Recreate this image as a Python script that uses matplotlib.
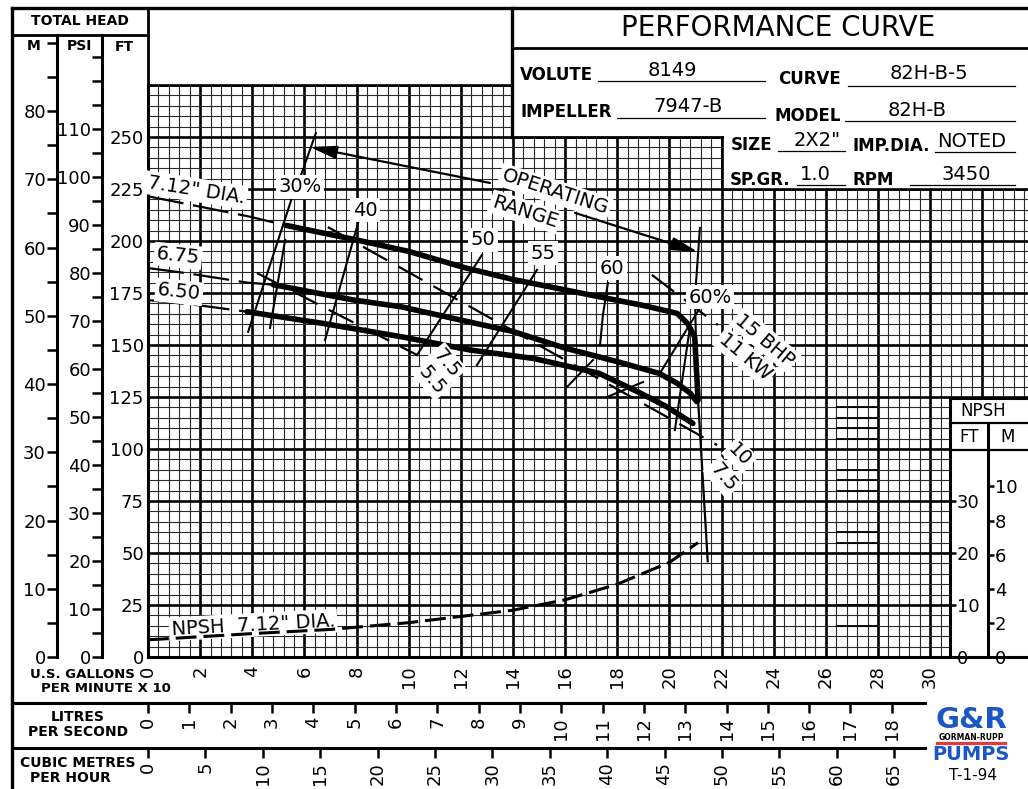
import numpy as np
import matplotlib
matplotlib.use("Agg")
import matplotlib.pyplot as plt
from matplotlib.patches import Rectangle
from matplotlib.ticker import MultipleLocator

plt.rcParams['font.family'] = ['DejaVu Sans']
plt.rcParams['lines.scale_dashes'] = False

# ---------------- data ----------------
flow_ticks = list(range(0, 33, 2))
flow_labels = [str(v) for v in range(0, 31, 2)] + ['']
head_ticks = list(range(0, 276, 25))
head_labels = [str(v) for v in range(0, 251, 25)] + ['']
metre_ticks = list(range(0, 81, 10))
psi_ticks = list(range(0, 111, 10))
litre_ticks = list(range(0, 19))
m3h_ticks = list(range(0, 66, 5))
npsh_ft_ticks = [0, 10, 20, 30]
npsh_m_ticks = [0, 2, 4, 6, 8, 10]

# head-capacity curves (flow in US GPM x10, head in ft)
q_712 = [0, 2, 3.9, 5.3, 8.0, 10.0, 12.2, 14.0, 16.0, 17.3, 19.0, 20.3, 20.7, 20.97, 21.1]
h_712 = [221.5, 216.5, 211.7, 207.5, 200.5, 195.0, 187.0, 181.5, 176.5, 173.2, 169.0, 165.2, 160.3, 153.9, 123.6]
q_712_runout = [21.1, 21.47]
h_712_runout = [123.6, 46.0]

q_675 = [0, 1.5, 3.8, 4.8, 7.9, 9.7, 12.35, 14.0, 16.0, 18.0, 19.6, 20.3, 20.8, 21.05]
h_675 = [187.0, 184.5, 180.0, 179.0, 171.6, 168.4, 161.0, 156.5, 148.5, 142.0, 136.4, 131.6, 126.8, 122.8]

q_650 = [0, 2.0, 3.8, 6.7, 9.7, 12.35, 14.8, 17.3, 18.9, 19.9, 20.9]
h_650 = [171.6, 169.0, 166.0, 160.4, 154.0, 147.6, 143.5, 136.4, 126.8, 120.3, 112.3]

# NPSH required (ft) for 7.12" impeller
q_npsh = [0, 4, 7, 10, 14, 16, 18, 20, 21.1]
npsh_ft = [3.3, 4.5, 5.3, 6.6, 9.0, 11.0, 14.0, 18.2, 22.0]

# iso-efficiency lines (q, head ft)
eff_30a = [(5.52, 220.7), (3.84, 156.3)]
eff_30b = [(5.26, 200.5), (4.68, 158.2)]
eff_40 = [(8.06, 208.7), (6.79, 152.4)]
eff_50 = [(12.81, 193.3), (10.32, 145.2)]
eff_55 = [(14.92, 186.1), (12.62, 140.4)]
eff_60a = [(17.64, 179.8), (17.45, 164.4), (17.34, 150.0)]
eff_60b = [(17.07, 142.8), (16.07, 129.8)]
eff_60c = [(17.61, 125.0), (18.99, 132.2)]
eff_60pa = [(21.17, 167.8), (19.64, 136.5)]
eff_60pb = [(20.79, 158.7), (20.21, 109.1)]
eff_60pc = [(20.98, 171.6), (21.06, 134.6)]

# brake horsepower lines
bhp_75 = [(4.18, 184.6), (10.32, 145.2)]
bhp_10 = [(6.9, 206.7), (21.83, 101.9)]
bhp_15 = [(19.33, 183.7), (21.86, 159.6)]

# operating range
op_left = [(6.44, 251.9), (5.83, 230.3)]
op_right = [(21.17, 206.3), (20.98, 172.6)]

# curve annotations: text, q, head, rotation
ann_text = ['7.12" DIA.', '6.75', '6.50', '30%', '40', '50', '55', '60', '60%',
            '15 BHP', '11 KW', '7.5', '5.5', '10', '7.5', 'NPSH  7.12" DIA.']
ann_q = [1.84, 1.15, 1.19, 5.83, 8.32, 12.85, 15.15, 17.8, 21.56,
         23.67, 22.9, 11.47, 10.9, 22.7, 22.06, 4.03]
ann_h = [224.5, 192.8, 175.5, 226.0, 214.9, 200.5, 194.2, 187.0, 173.0,
         152.4, 144.2, 141.3, 133.2, 97.0, 86.5, 15.4]
ann_rot = [-9, -6, -6, 0, 0, 0, 0, 0, 0, -40, -40, -50, -50, -45, -50, 3]

# ---------------- geometry ----------------
W, H = 1028, 789
X0, Y0 = 148, 657          # pixel of flow 0 / head 0
PX_Q = 26.07               # px per 10 gpm
PX_FT = 2.08               # px per ft of head
GRID_TOP = 85


def fx(px):
    return px / W


def fy(py):
    return 1 - py / H


fig = plt.figure(figsize=(W / 100, H / 100), dpi=100)
fig.patch.set_facecolor('white')

ax = fig.add_axes([fx(X0), fy(Y0), 1 - fx(X0), fy(GRID_TOP) - fy(Y0)])
ax.set_xlim(0, (W - X0) / PX_Q)
ax.set_ylim(0, (Y0 - GRID_TOP) / PX_FT)
ax.set_xticks(flow_ticks, labels=flow_labels)
ax.xaxis.set_minor_locator(MultipleLocator(0.4))
ax.set_yticks(head_ticks, labels=head_labels)
ax.yaxis.set_minor_locator(MultipleLocator(5))
ax.set_axisbelow(True)
ax.grid(which='minor', color='#2a2a2a', lw=0.8)
ax.grid(which='major', color='black', lw=1.9)
ax.tick_params(which='both', length=0)
ax.tick_params(axis='x', pad=6, labelrotation=90, labelsize=13)
ax.tick_params(axis='y', pad=3, labelsize=13)
for s in ['top', 'right']:
    ax.spines[s].set_visible(False)
for s in ['left', 'bottom']:
    ax.spines[s].set_linewidth(2.2)

qmax = (W - X0) / PX_Q
# darker scan strip
for hh in [15, 25, 55, 60, 80, 85, 90, 105, 110, 115, 120]:
    ax.hlines(hh, 26.4, 28.0, color='black', lw=1.3, zorder=0.9)

# white boxes covering the grid (title block, NPSH scale box)
for (x0, y0, w, h) in [(14, 250, qmax - 14, 30), (22, 225, qmax - 22, 30), (30.8, -2, qmax - 30.8, 127)]:
    ax.add_patch(Rectangle((x0, y0), w, h, facecolor='white', edgecolor='none', zorder=1.5))


def draw_head(qs, hs, q_thick):
    qs = np.asarray(qs)
    hs = np.asarray(hs)
    thin = qs <= q_thick
    ax.plot(qs[thin], hs[thin], color='black', lw=1.6, ls=(0, (26, 7)), zorder=3)
    thick = qs >= q_thick
    ax.plot(qs[thick], hs[thick], color='black', lw=4.0, zorder=3,
            solid_joinstyle='round', solid_capstyle='round')


draw_head(q_712, h_712, 5.3)
draw_head(q_675, h_675, 4.8)
draw_head(q_650, h_650, 3.8)
ax.plot(q_712_runout, h_712_runout, color='black', lw=1.6, zorder=3)

for seg in [eff_30a, eff_30b, eff_40, eff_50, eff_55, eff_60a, eff_60b, eff_60c,
            eff_60pa, eff_60pb, eff_60pc, op_left, op_right]:
    qq, hh = zip(*seg)
    ax.plot(qq, hh, color='black', lw=1.5, zorder=3)

for seg in [bhp_75, bhp_10, bhp_15]:
    qq, hh = zip(*seg)
    ax.plot(qq, hh, color='black', lw=1.6, ls=(0, (20, 9)), zorder=3)

# NPSH curve on its own scale (2.5x head scale)
tw = ax.twinx()
tw.set_ylim(0, (Y0 - GRID_TOP) / (PX_FT * 2.5))
tw.set_axis_off()
tw.plot(q_npsh, npsh_ft, color='black', lw=2.2, ls=(0, (15, 5)), zorder=3)

lab_bbox = dict(boxstyle='square,pad=0.12', facecolor='white', edgecolor='none')
for t, q, h, r in zip(ann_text, ann_q, ann_h, ann_rot):
    ax.text(q, h, t, fontsize=14, rotation=r, ha='center', va='center',
            rotation_mode='anchor', bbox=lab_bbox, zorder=6)

# operating range
ax.text(15.61, 223.6, 'OPERATING', fontsize=14, rotation=-18, ha='center', va='center',
        rotation_mode='anchor', bbox=lab_bbox, zorder=6)
ax.text(14.46, 214.0, 'RANGE', fontsize=14, rotation=-18, ha='center', va='center',
        rotation_mode='anchor', bbox=lab_bbox, zorder=6)
arrow = dict(arrowstyle='-|>,head_length=0.9,head_width=0.22', color='black', lw=1.6,
             shrinkA=0, shrinkB=0, mutation_scale=18)
ax.annotate('', xy=(6.21, 245.2), xytext=(13.12, 227.9), arrowprops=arrow, zorder=5)
ax.annotate('', xy=(21.1, 194.7), xytext=(16.38, 213.5), arrowprops=arrow, zorder=5)

# secondary flow scales
sec_l = ax.secondary_xaxis(-(703 - Y0) / (Y0 - GRID_TOP),
                           functions=(lambda q: q * 0.630902, lambda l: l / 0.630902))
sec_l.set_xticks(litre_ticks, labels=[str(v) for v in litre_ticks])
sec_l.spines['bottom'].set_visible(False)
sec_l.tick_params(direction='out', length=7, width=1.8, pad=3, labelsize=13, labelrotation=90)

sec_m = ax.secondary_xaxis(-(748 - Y0) / (Y0 - GRID_TOP),
                           functions=(lambda q: q * 2.271247, lambda m: m / 2.271247))
sec_m.set_xticks(m3h_ticks, labels=[str(v) for v in m3h_ticks])
sec_m.spines['bottom'].set_visible(False)
sec_m.tick_params(direction='out', length=7, width=1.8, pad=3, labelsize=13, labelrotation=90)


def vscale(xpx, ytop, ymax, ticks, minor=None, side='left', tlen=7):
    a = fig.add_axes([fx(xpx), fy(Y0), 1e-4, fy(ytop) - fy(Y0)])
    a.patch.set_alpha(0)
    a.set_ylim(0, ymax)
    a.set_xticks([])
    for s in ['top', 'bottom', 'left', 'right']:
        a.spines[s].set_visible(s == side)
    a.spines[side].set_linewidth(2.2)
    if side == 'right':
        a.yaxis.tick_right()
    a.set_yticks(ticks, labels=[str(v) for v in ticks])
    if minor:
        a.yaxis.set_minor_locator(MultipleLocator(minor))
    a.tick_params(axis='y', which='both', direction='out', length=tlen, width=1.8, pad=1, labelsize=13)
    return a


vscale(57, 35, (Y0 - 35) / (PX_FT * 3.28084), metre_ticks, minor=5)
vscale(102, 35, (Y0 - 35) / (PX_FT * 2.30666), psi_ticks, minor=5)
vscale(950, 398, (Y0 - 398) / (PX_FT * 2.5), npsh_ft_ticks, side='right', tlen=4)
vscale(988, 423, (Y0 - 423) / (PX_FT * 2.5 * 3.28084), npsh_m_ticks, side='right', tlen=4)

# ---------------- overlay: frame, title block, captions ----------------
ov = fig.add_axes([0, 0, 1, 1])
ov.set_xlim(0, W)
ov.set_ylim(H, 0)
ov.axis('off')

frame = [((12, 8), (1028, 8), 2.4), ((12, 8), (12, 789), 2.4), ((12, 35), (148, 35), 2.0),
         ((148, 8), (148, 85), 2.0), ((148, 85), (512, 85), 1.9), ((512, 8), (512, 137), 2.4),
         ((512, 48), (1028, 48), 2.0), ((512, 137), (721.5, 137), 2.0),
         ((721.5, 137), (721.5, 189), 1.9), ((721.5, 189), (1028, 189), 1.9),
         ((950, 398), (1028, 398), 2.2), ((950, 423), (1028, 423), 1.6),
         ((950, 450), (1028, 450), 1.6), ((12, 703), (925, 703), 2.2), ((12, 748), (925, 748), 2.2)]
for (a, b, lw) in frame:
    ov.plot([a[0], b[0]], [a[1], b[1]], color='black', lw=lw, solid_capstyle='projecting')

ov.text(80, 21, 'TOTAL HEAD', fontsize=10, fontweight='bold', ha='center', va='center')
ov.text(34, 46, 'M', fontsize=10, fontweight='bold', ha='center', va='center')
ov.text(79, 46, 'PSI', fontsize=10, fontweight='bold', ha='center', va='center')
ov.text(124, 47, 'FT', fontsize=10, fontweight='bold', ha='center', va='center')

ov.text(778, 28, 'PERFORMANCE CURVE', fontsize=20, ha='center', va='center')
fields = [('VOLUTE', 520, 80, '8149', 672, 76, 598, 765, 81),
          ('CURVE', 778, 84, '82H-B-5', 929, 79, 848, 1015, 86),
          ('IMPELLER', 520, 117, '7947-B', 688, 112, 617, 765, 118),
          ('MODEL', 775, 121, '82H-B', 917, 116, 845, 1015, 121),
          ('SIZE', 731, 150, '2X2"', 817, 146, 778, 845, 151),
          ('IMP.DIA.', 852, 151, 'NOTED', 972, 147, 935, 1015, 152),
          ('SP.GR.', 730, 185, '1.0', 815, 180, 797, 845, 185),
          ('RPM', 853, 185, '3450', 966, 180, 910, 1015, 185)]
for (lab, lx, ly, val, vx, vy, u0, u1, uy) in fields:
    ov.text(lx, ly, lab, fontsize=12, fontweight='bold', ha='left', va='baseline')
    ov.text(vx, vy, val, fontsize=14, ha='center', va='baseline')
    ov.plot([u0, u1], [uy, uy], color='black', lw=0.9)

ov.text(983, 411, 'NPSH', fontsize=12, ha='center', va='center')
ov.text(969, 437, 'FT', fontsize=12, ha='center', va='center')
ov.text(1008, 437, 'M', fontsize=12, ha='center', va='center')

ov.text(82, 674, 'U.S. GALLONS', fontsize=9.5, fontweight='bold', ha='center', va='center')
ov.text(106, 688, 'PER MINUTE X 10', fontsize=9.5, fontweight='bold', ha='center', va='center')
ov.text(78, 717, 'LITRES', fontsize=10, fontweight='bold', ha='center', va='center')
ov.text(78, 732, 'PER SECOND', fontsize=10, fontweight='bold', ha='center', va='center')
ov.text(78, 763, 'CUBIC METRES', fontsize=10, fontweight='bold', ha='center', va='center')
ov.text(30, 778, 'PER HOUR', fontsize=10, fontweight='bold', ha='left', va='center')

# logo
ov.text(971, 728, 'G&R', fontsize=21, fontweight='heavy', color='#1a57c6', ha='center', va='baseline')
ov.text(971, 737.5, 'GORMAN-RUPP', fontsize=5.5, fontweight='bold', color='black', ha='center', va='center')
ov.plot([937, 1005], [743, 743], color='#e03a3a', lw=2.3)
ov.text(971, 755, 'PUMPS', fontsize=14, fontweight='heavy', color='#1a57c6', ha='center', va='center')
ov.text(973, 775, 'T-1-94', fontsize=11, ha='center', va='center')

fig.savefig('out.png', dpi=100, facecolor='white')
